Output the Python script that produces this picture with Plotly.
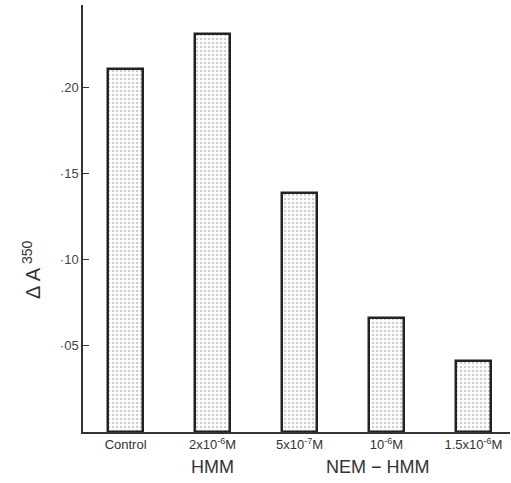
import plotly.graph_objects as go

categories = ["Control", "2x10<sup>-6</sup>M", "5x10<sup>-7</sup>M", "10<sup>-6</sup>M", "1.5x10<sup>-6</sup>M"]
values = [0.211, 0.231, 0.139, 0.066, 0.041]
ytick_vals = [0.05, 0.10, 0.15, 0.20]
ytick_text = ["·05", "·10", "·15", ".20"]
groups = [("HMM", 1.0), ("NEM − HMM", 2.9)]

x = list(range(len(categories)))
font = "Liberation Sans, Arial, sans-serif"

fig = go.Figure(go.Bar(
    x=x, y=values, width=0.41,
    marker=dict(
        color="white",
        line=dict(color="#222", width=2.5),
        pattern=dict(shape=".", fgcolor="#999999", bgcolor="white", size=4, solidity=0.3),
    ),
))

for text, xpos in groups:
    fig.add_annotation(x=xpos, y=-0.083, xref="x", yref="paper", text=text, showarrow=False,
                       font=dict(family=font, size=18, color="#333"), yanchor="middle")

fig.add_annotation(x=-0.155, y=0.38, xref="paper", yref="paper", text="Δ A<sup> 350</sup>",
                   textangle=-90, showarrow=False, font=dict(family=font, size=20, color="#333"))

fig.update_layout(
    width=511, height=483,
    margin=dict(l=83, r=1, t=5, b=51),
    paper_bgcolor="white", plot_bgcolor="white",
    showlegend=False,
    bargap=0,
    xaxis=dict(range=[-0.49, 4.42], tickvals=x, ticktext=categories, showgrid=False, zeroline=False,
               showline=True, linecolor="#333", linewidth=1.5, ticks="",
               tickfont=dict(family=font, size=13, color="#333")),
    yaxis=dict(range=[0, 0.248], tickvals=ytick_vals, ticktext=ytick_text, showgrid=False, zeroline=False,
               showline=True, linecolor="#333", linewidth=1.5, ticks="inside", ticklen=6, tickcolor="#333",
               tickfont=dict(family=font, size=13, color="#444")),
)

fig.write_html("out.html", config={"displayModeBar": False},
               post_script="document.body.style.margin='0';")
